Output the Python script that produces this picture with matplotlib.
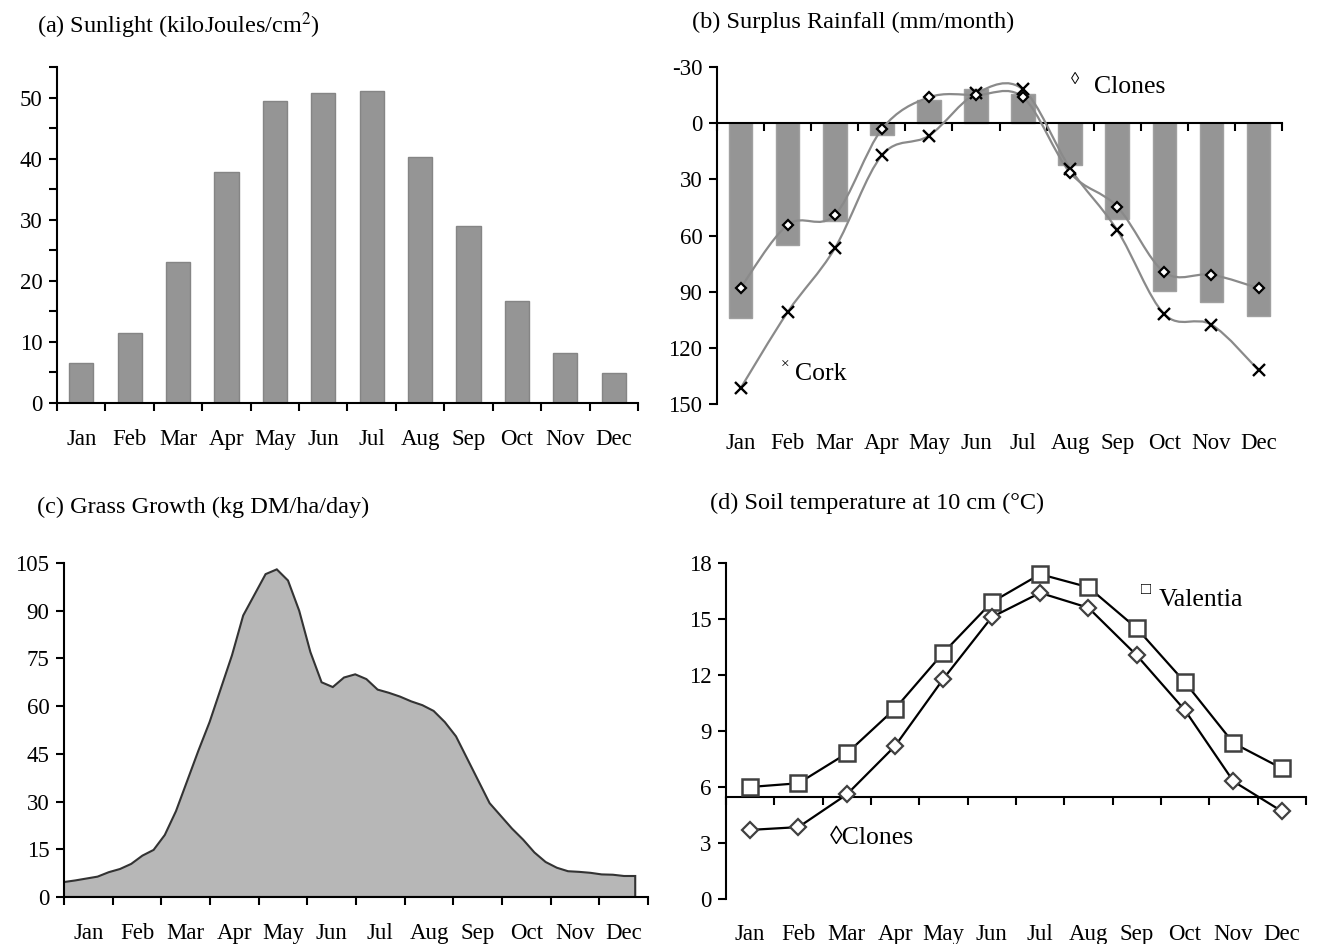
import numpy as np
import matplotlib
matplotlib.use("Agg")
import matplotlib.pyplot as plt
from matplotlib.path import Path
from matplotlib.patches import PathPatch

plt.rcParams['font.family'] = ['Liberation Serif', 'DejaVu Serif']
plt.rcParams['mathtext.fontset'] = 'stix'

months = ['Jan', 'Feb', 'Mar', 'Apr', 'May', 'Jun',
          'Jul', 'Aug', 'Sep', 'Oct', 'Nov', 'Dec']

# (a) sunlight, kJ/cm2 per month
sunlight = [6.5, 11.5, 23.0, 37.8, 49.4, 50.7, 51.0, 40.2, 28.9, 16.7, 8.2, 4.9]

# (b) surplus rainfall, mm/month (positive = deficit plotted downward)
rain_bars = [104, 65, 52, 6.5, -12.5, -18.5, -15.5, 22.5, 51, 89.5, 95.5, 103]
rain_clones = [88, 54.3, 49, 3.2, -13.8, -15.0, -13.8, 26.5, 44.6, 79.6, 80.9, 88.1]
rain_cork = [141.6, 100.9, 66.9, 17.2, 6.7, -15.9, -18.0, 24.2, 57.2, 102.0, 107.6, 131.9]

# (c) grass growth, kg DM/ha/day, weekly
grass_week = np.arange(52)
grass = [4.7, 5.2, 5.8, 6.4, 7.8, 8.8, 10.4, 13.0, 14.8, 19.5, 27, 36.5, 46, 55,
         65.5, 76, 88.5, 95, 101.5, 103, 99.5, 90, 77, 67.5, 66, 69, 70, 68.5,
         65.2, 64.2, 63, 61.5, 60.3, 58.5, 55, 50.5, 43.5, 36.5, 29.5, 25.5,
         21.5, 18, 14, 11, 9.2, 8.1, 7.9, 7.6, 7.1, 7.0, 6.6, 6.6]

# (d) soil temperature at 10 cm, deg C
soil_valentia = [6.0, 6.2, 7.8, 10.2, 13.2, 15.9, 17.4, 16.7, 14.5, 11.6, 8.35, 7.0]
soil_clones = [3.7, 3.85, 5.6, 8.2, 11.8, 15.1, 16.4, 15.6, 13.05, 10.1, 6.3, 4.7]
soil_axis_level = 5.45

TICK_FS = 16.5
TITLE_FS = 17.5
BAR_COLOR = '#959595'
LINE_GREY = '#8a8a8a'
SPINE_W = 1.5

fig = plt.figure(figsize=(13.19, 9.44), dpi=100)


def style_axes(ax):
    for s in ('top', 'right'):
        ax.spines[s].set_visible(False)
    for s in ('left', 'bottom'):
        ax.spines[s].set_linewidth(SPINE_W)
    ax.tick_params(axis='both', which='both', direction='out', width=SPINE_W,
                   length=5.5, labelsize=TICK_FS, pad=5)


def month_axis(ax, pad=20):
    n = len(months)
    ax.set_xlim(-0.5, n - 0.5)
    ax.set_xticks(np.arange(n + 1) - 0.5)
    ax.set_xticklabels([])
    ax.set_xticks(np.arange(n), minor=True)
    ax.set_xticklabels(months, minor=True)
    ax.tick_params(axis='x', which='minor', length=0, pad=pad)


def smooth_path(x, y):
    # Catmull-Rom style bezier through all points
    x = np.asarray(x, float)
    y = np.asarray(y, float)
    pts = np.column_stack([x, y])
    verts = [pts[0]]
    codes = [Path.MOVETO]
    n = len(pts)
    for i in range(n - 1):
        p0 = pts[i - 1] if i > 0 else pts[i]
        p1 = pts[i]
        p2 = pts[i + 1]
        p3 = pts[i + 2] if i + 2 < n else pts[i + 1]
        c1 = p1 + (p2 - p0) / 6.0
        c2 = p2 - (p3 - p1) / 6.0
        verts += [c1, c2, p2]
        codes += [Path.CURVE4] * 3
    return Path(verts, codes)


x12 = np.arange(12)

# ---------- (a) Sunlight ----------
ax_a = fig.add_axes([0.0432, 0.5731, 0.4405, 0.3559])
style_axes(ax_a)
ax_a.bar(x12, sunlight, width=0.5, color=BAR_COLOR, edgecolor='#858585',
         linewidth=1.0, zorder=2)
month_axis(ax_a, pad=19)
ax_a.set_ylim(0, 55)
ax_a.set_yticks(np.arange(0, 51, 10))
ax_a.set_yticks(np.arange(5, 56, 10), minor=True)
fig.text(0.028, 0.973, r'(a) Sunlight (kiloJoules/cm$^2$)', fontsize=TITLE_FS,
         va='center', ha='left')

# ---------- (b) Surplus rainfall ----------
ax_b = fig.add_axes([0.5436, 0.572, 0.4284, 0.357])
style_axes(ax_b)
ax_b.set_ylim(150, -30)
ax_b.set_yticks(np.arange(-30, 151, 30))
ax_b.set_yticklabels(['-30', '0', '30', '60', '90', '120', '150'])
ax_b.bar(x12, rain_bars, width=0.5, color=BAR_COLOR, edgecolor='#a0a0a0',
         linewidth=1.0, zorder=2)
ax_b.spines['bottom'].set_position(('data', 0))
ax_b.spines['bottom'].set_zorder(3)
ax_b.set_xlim(-0.5, 11.5)
ax_b.set_xticks(np.arange(13) - 0.5)
ax_b.set_xticklabels([])
sec_b = ax_b.secondary_xaxis('bottom')
sec_b.set_xticks(x12)
sec_b.set_xticklabels(months)
sec_b.tick_params(length=0, pad=21, labelsize=TICK_FS)
sec_b.spines['bottom'].set_visible(False)
for series in (rain_clones, rain_cork):
    ax_b.add_patch(PathPatch(smooth_path(x12, series), facecolor='none',
                             edgecolor=LINE_GREY, linewidth=1.6, zorder=4))
ax_b.plot(x12, rain_clones, linestyle='none', marker='D', markersize=5,
          markerfacecolor='white', markeredgecolor='black',
          markeredgewidth=1.6, zorder=6)
ax_b.plot(x12, rain_cork, linestyle='none', marker='x', markersize=8.5,
          color='black', markeredgewidth=1.7, zorder=5)
ax_b.text(7.1, -23, '\u25CA', fontsize=12, ha='center', va='center')
ax_b.text(7.5, -19.5, 'Clones', fontsize=TITLE_FS + 1, ha='left', va='center')
ax_b.text(0.95, 129.5, '\u00D7', fontsize=11, ha='center', va='center')
ax_b.text(1.15, 134, 'Cork', fontsize=TITLE_FS + 1, ha='left', va='center')
fig.text(0.525, 0.976, '(b) Surplus Rainfall (mm/month)', fontsize=TITLE_FS,
         va='center', ha='left')

# ---------- (c) Grass growth ----------
ax_c = fig.add_axes([0.0485, 0.0498, 0.4428, 0.3538])
style_axes(ax_c)
gx = grass_week * 7.0 * 12.0 / 365.0
ax_c.fill(np.r_[gx[0], gx, gx[-1]], np.r_[0, grass, 0], facecolor='#b7b7b7',
          edgecolor='#333333', linewidth=1.5, zorder=2)
ax_c.set_xlim(0, 12)
ax_c.set_ylim(0, 105)
ax_c.set_yticks(np.arange(0, 106, 15))
ax_c.set_xticks(np.arange(13))
ax_c.set_xticklabels([])
ax_c.set_xticks(np.arange(12) + 0.5, minor=True)
ax_c.set_xticklabels(months, minor=True)
ax_c.tick_params(axis='x', which='minor', length=0, pad=19)
fig.text(0.028, 0.462, '(c) Grass Growth (kg DM/ha/day)', fontsize=TITLE_FS,
         va='center', ha='left')

# ---------- (d) Soil temperature ----------
ax_d = fig.add_axes([0.5504, 0.0477, 0.4397, 0.3559])
style_axes(ax_d)
ax_d.set_ylim(0, 18)
ax_d.set_yticks(np.arange(0, 19, 3))
ax_d.spines['bottom'].set_position(('data', soil_axis_level))
ax_d.set_xlim(-0.5, 11.5)
ax_d.set_xticks(np.arange(13) - 0.5)
ax_d.set_xticklabels([])
sec_d = ax_d.secondary_xaxis('bottom')
sec_d.set_xticks(x12)
sec_d.set_xticklabels(months)
sec_d.tick_params(length=0, pad=18, labelsize=TICK_FS)
sec_d.spines['bottom'].set_visible(False)
ax_d.plot(x12, soil_valentia, color='black', linewidth=1.6, marker='s',
          markersize=11, markerfacecolor='white', markeredgecolor='#404040',
          markeredgewidth=1.8, zorder=4)
ax_d.plot(x12, soil_clones, color='black', linewidth=1.6, marker='D',
          markersize=8.5, markerfacecolor='white', markeredgecolor='#404040',
          markeredgewidth=1.6, zorder=4)
ax_d.text(8.2, 16.55, '\u25A1', fontsize=12, ha='center', va='center')
ax_d.text(8.45, 16.0, 'Valentia', fontsize=TITLE_FS + 1, ha='left', va='center')
ax_d.text(1.65, 3.27, '\u25CAClones', fontsize=TITLE_FS + 1, ha='left', va='center')
fig.text(0.538, 0.467, '(d) Soil temperature at 10 cm (\u00B0C)', fontsize=TITLE_FS,
         va='center', ha='left')

fig.savefig('out.png', dpi=100)
